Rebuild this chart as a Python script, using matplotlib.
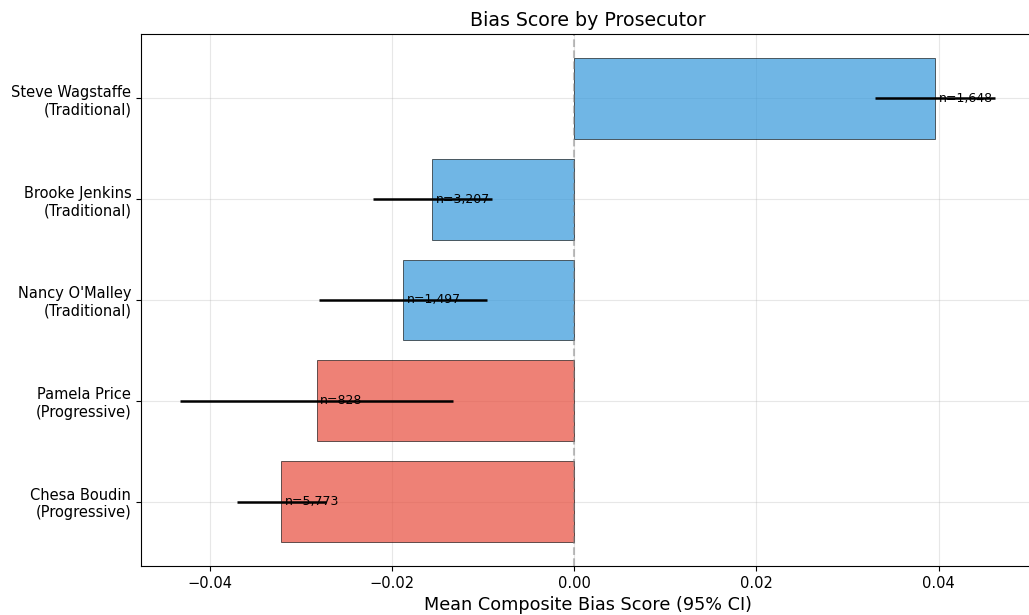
import numpy as np
import matplotlib
matplotlib.use('Agg')
import matplotlib.pyplot as plt

# prosecutors, bottom to top
names = ['Chesa Boudin\n(Progressive)', 'Pamela Price\n(Progressive)',
         "Nancy O'Malley\n(Traditional)", 'Brooke Jenkins\n(Traditional)',
         'Steve Wagstaffe\n(Traditional)']
kinds = ['Progressive', 'Progressive', 'Traditional', 'Traditional', 'Traditional']
means = [-0.0322, -0.0283, -0.0188, -0.0156, 0.0396]
ci_half = [0.0049, 0.0150, 0.0092, 0.0065, 0.0066]
counts = [5773, 828, 1497, 3207, 1648]

colors = {'Progressive': '#E74C3C', 'Traditional': '#3498DB'}

fig = plt.figure(figsize=(10.29, 6.15), dpi=100)
ax = fig.add_axes([0.137, 0.0797, 0.868, 0.865])

y = np.arange(len(names))
ax.barh(y, means, height=0.8, color=[colors[k] for k in kinds],
        alpha=0.7, edgecolor='black', linewidth=0.6)
ax.errorbar(means, y, xerr=ci_half, fmt='none', ecolor='black', elinewidth=1.8, capsize=0)

for yi, m, n in zip(y, means, counts):
    ax.text(m + 0.0004, yi, f'n={n:,}', va='center', ha='left', fontsize=9)

ax.axvline(0, color='gray', linestyle='--', linewidth=1.5, alpha=0.5)
ax.set_yticks(y)
ax.set_yticklabels(names, fontsize=10.5)
ax.tick_params(axis='x', labelsize=10.5)
ax.set_xlim(-0.0476, 0.0505)
ax.set_xlabel('Mean Composite Bias Score (95% CI)', fontsize=12.7)
ax.set_title('Bias Score by Prosecutor', fontsize=13.7)
ax.grid(True, alpha=0.3)
ax.set_axisbelow(True)

plt.savefig('out.png', dpi=100)
